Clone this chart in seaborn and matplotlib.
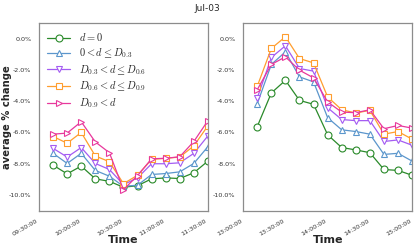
## average % change per distance bucket, morning and afternoon sessions
import pandas as pd
import matplotlib
matplotlib.use('Agg')
import matplotlib.pyplot as plt
import matplotlib.dates as mdates
from matplotlib import ticker
import seaborn as sns

sns.set_style('white', {'axes.edgecolor': '0.55', 'xtick.bottom': False, 'ytick.left': False})
plt.rcParams['font.family'] = ['DejaVu Sans']
plt.rcParams['mathtext.fontset'] = 'cm'

labels = [r'$d = 0$', r'$0 < d \leq D_{0.3}$', r'$D_{0.3} < d \leq D_{0.6}$',
          r'$D_{0.6} < d \leq D_{0.9}$', r'$D_{0.9} < d$']
colors = ['#2a8a2a', '#5b96cc', '#a45cf2', '#ff9d2e', '#e8389c']
markers = ['o', '^', 'v', 's', '>']

am_times = ['09:40', '09:50', '10:00', '10:10', '10:20', '10:30',
            '10:40', '10:50', '11:00', '11:10', '11:20', '11:30']
pm_times = ['13:10', '13:20', '13:30', '13:40', '13:50', '14:00',
            '14:10', '14:20', '14:30', '14:40', '14:50', '15:00']

am_values = [
    [-8.10, -8.66, -8.16, -8.98, -9.14, -9.52, -9.42, -8.98, -8.92, -8.96, -8.59, -7.84],
    [-7.34, -7.99, -7.34, -8.44, -8.81, -9.46, -9.39, -8.70, -8.64, -8.53, -7.99, -6.91],
    [-7.02, -7.58, -6.97, -7.99, -8.38, -9.35, -8.92, -8.01, -8.01, -7.95, -7.34, -6.22],
    [-6.26, -6.69, -6.00, -7.51, -7.88, -9.29, -8.75, -7.73, -7.66, -7.58, -6.86, -5.57],
    [-6.11, -6.04, -5.31, -6.61, -7.30, -9.68, -8.77, -7.69, -7.66, -7.56, -6.58, -5.24],
]
pm_values = [
    [-5.62, -3.46, -2.65, -3.94, -4.19, -6.15, -6.97, -7.12, -7.30, -8.38, -8.44, -8.75],
    [-4.15, -1.63, -0.82, -2.43, -2.75, -5.05, -5.83, -5.94, -6.11, -7.41, -7.34, -7.84],
    [-3.78, -1.18, -0.43, -1.89, -2.06, -4.41, -5.17, -5.24, -5.24, -6.58, -6.48, -6.82],
    [-3.03, -0.60, 0.15, -1.25, -1.53, -3.72, -4.54, -4.75, -4.58, -6.11, -5.94, -6.43],
    [-3.25, -1.63, -1.14, -2.00, -2.49, -4.04, -4.69, -4.73, -4.54, -5.76, -5.55, -5.72],
]


def make_df(times, values):
    rows = []
    for label, vals in zip(labels, values):
        for t, v in zip(times, vals):
            rows.append({'Time': pd.Timestamp('2019-07-03 ' + t), 'change': v, 'bucket': label})
    return pd.DataFrame(rows)


fig = plt.figure(figsize=(4.15, 2.48), dpi=100)
ax1 = fig.add_axes([0.094, 0.149, 0.407, 0.758])
ax2 = fig.add_axes([0.586, 0.149, 0.407, 0.758])

panels = [(ax1, make_df(am_times, am_values), '09:30', '11:30'),
          (ax2, make_df(pm_times, pm_values), '13:00', '15:00')]

for ax, df, start, end in panels:
    sns.lineplot(data=df, x='Time', y='change', hue='bucket', style='bucket',
                 hue_order=labels, style_order=labels, palette=colors,
                 markers=markers, dashes=False, legend=False, ax=ax,
                 linewidth=0.9, markersize=5)
    # open markers
    for line in ax.lines:
        line.set_markerfacecolor('white')
        line.set_markeredgecolor(line.get_color())
        line.set_markeredgewidth(0.8)
    ax.set_xlim(pd.Timestamp('2019-07-03 ' + start), pd.Timestamp('2019-07-03 ' + end))
    ax.set_ylim(-11.05, 1.03)
    ax.xaxis.set_major_locator(mdates.MinuteLocator(byminute=[0, 30]))
    ax.xaxis.set_major_formatter(mdates.DateFormatter('%H:%M:%S'))
    ax.yaxis.set_major_locator(ticker.MultipleLocator(2))
    ax.yaxis.set_major_formatter(ticker.FuncFormatter(lambda v, p: '%.1f%%' % v))
    ax.tick_params(axis='both', labelsize=4.6, pad=2, colors='0.2')
    for lbl in ax.get_xticklabels():
        lbl.set_rotation(30)
        lbl.set_ha('right')
    ax.set_xlabel('Time', fontsize=8, fontweight='bold')
    ax.xaxis.set_label_coords(0.5, -0.13)
    ax.set_ylabel('')
    for s in ax.spines.values():
        s.set_linewidth(0.9)

ax1.set_ylabel('average % change', fontsize=7.2, fontweight='bold')
ax1.yaxis.set_label_coords(-0.158, 0.5)
ax1.legend(handles=ax1.lines[:5], labels=labels, loc='upper left', frameon=False,
           fontsize=7.5, handlelength=2.2, labelspacing=0.3, borderaxespad=0.4)

fig.suptitle('Jul-03', fontsize=6.5, y=0.985)

plt.savefig('out.png', dpi=100)
